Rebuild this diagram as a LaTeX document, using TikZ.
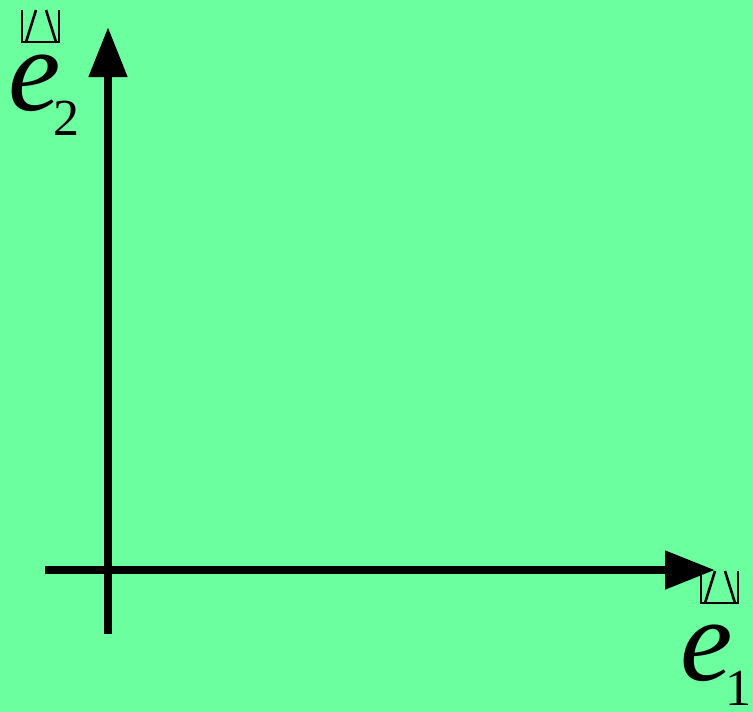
\documentclass[tikz,border=0pt]{standalone}
\usepackage{fontspec}
\setmainfont{Liberation Serif}
\usetikzlibrary{arrows.meta,positioning}
\definecolor{bggreen}{RGB}{108,255,159}
\tikzset{
  axis/.style={
    -{Triangle[length=50pt,width=37pt]},
    draw=black, line width=8pt
  },
  veclabel/.style={
    inner sep=0pt, font=\fontsize{118}{118}\selectfont\itshape
  },
  pics/vecmark/.style={
    code={
      \draw[line width=2.6pt, line join=miter]
        (0,0) -- (0,32) -- (37,32) -- (37,0);
      \draw[line width=2.6pt] (14,0) -- (4,32);
      \draw[line width=2.6pt] (24,0) -- (34,32);
    }
  },
}
\newcommand{\subidx}[1]{\kern-7pt{\fontsize{52}{52}\selectfont\upshape\raisebox{-25pt}{#1}}}

\begin{document}
\begin{tikzpicture}[x=1pt,y=-1pt]
  \fill[bggreen] (0,0) rectangle (753,712);
  \useasboundingbox (0,0) rectangle (753,712);

  %% Axes
  \coordinate (xstart) at (45,570);
  \coordinate (xend) at (715,570);
  \coordinate (ystart) at (108,634);
  \coordinate (yend) at (108,27);
  \draw[axis] (xstart) -- (xend);
  \draw[axis] (ystart) -- (yend);

  %% Labels
  \node[veclabel, anchor=base west] (e2) at (8,110) {e\subidx{2}};
  \pic at (22,10) {vecmark};
  \node[veclabel, anchor=base west] (e1) at (680,680) {e\subidx{1}};
  \pic at (701,571) {vecmark};
\end{tikzpicture}
\end{document}
